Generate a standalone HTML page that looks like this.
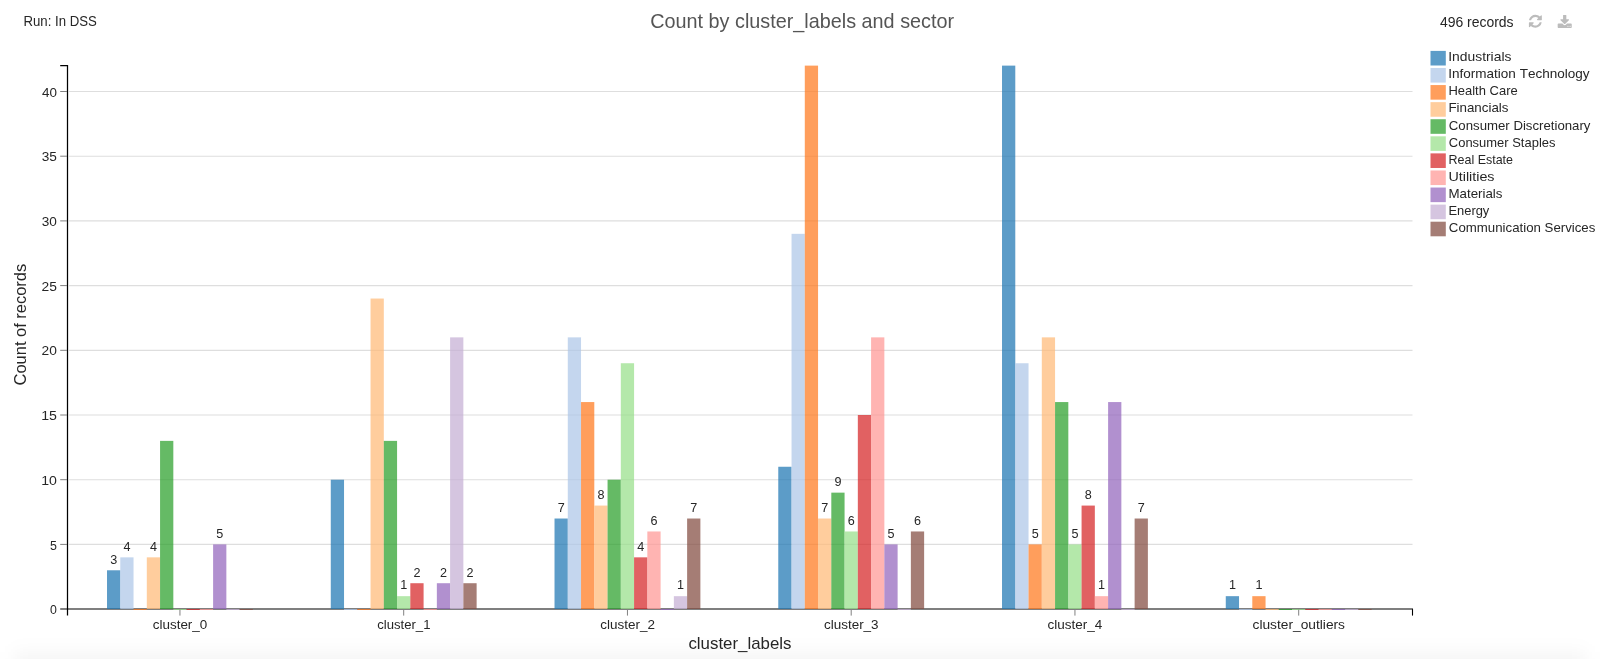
<!DOCTYPE html>
<html lang="en"><head><meta charset="utf-8"><title>Count by cluster_labels and sector</title>
<style>
html,body{margin:0;padding:0;background:#fff;}
body{width:1600px;height:659px;position:relative;overflow:hidden;font-family:"Liberation Sans",sans-serif;}
</style></head><body>
<svg width="1600" height="659" viewBox="0 0 1600 659" font-family="Liberation Sans, sans-serif" style="position:absolute;left:0;top:0;display:block;font-kerning:none;will-change:transform">
<defs><filter id="sh" x="-5%" y="-200%" width="110%" height="500%"><feGaussianBlur stdDeviation="9"/></filter></defs>
<rect x="14" y="652" width="1572" height="60" fill="#000" fill-opacity="0.04" filter="url(#sh)"/>
<g stroke="#dedede" stroke-width="1.15">
<line x1="69" x2="1412.5" y1="544.40" y2="544.40"/>
<line x1="69" x2="1412.5" y1="479.70" y2="479.70"/>
<line x1="69" x2="1412.5" y1="415.00" y2="415.00"/>
<line x1="69" x2="1412.5" y1="350.30" y2="350.30"/>
<line x1="69" x2="1412.5" y1="285.60" y2="285.60"/>
<line x1="69" x2="1412.5" y1="220.90" y2="220.90"/>
<line x1="69" x2="1412.5" y1="156.20" y2="156.20"/>
<line x1="69" x2="1412.5" y1="91.50" y2="91.50"/>
</g>
<line x1="60.2" x2="1413.0" y1="609.0" y2="609.0" stroke="#000" stroke-width="1.17"/>
<g fill-opacity="0.73">
<rect x="107.02" y="570.28" width="13.26" height="38.72" fill="#1f77b4"/>
<rect x="120.28" y="557.34" width="13.26" height="51.66" fill="#aec7e8"/>
<rect x="133.54" y="609.00" width="13.26" height="1" fill="#ff7a20"/>
<rect x="146.80" y="557.34" width="13.26" height="51.66" fill="#ffbb78"/>
<rect x="160.06" y="440.88" width="13.26" height="168.12" fill="#2ca02c"/>
<rect x="173.32" y="609.00" width="13.26" height="1" fill="#98df8a"/>
<rect x="186.58" y="609.00" width="13.26" height="1" fill="#d62728"/>
<rect x="199.84" y="609.00" width="13.26" height="1" fill="#ff9896"/>
<rect x="213.10" y="544.40" width="13.26" height="64.60" fill="#9467bd"/>
<rect x="226.36" y="609.00" width="13.26" height="1" fill="#c5b0d5"/>
<rect x="239.62" y="609.00" width="13.26" height="1" fill="#844d42"/>
<rect x="330.77" y="479.70" width="13.26" height="129.30" fill="#1f77b4"/>
<rect x="344.03" y="609.00" width="13.26" height="1" fill="#aec7e8"/>
<rect x="357.29" y="609.00" width="13.26" height="1" fill="#ff7a20"/>
<rect x="370.55" y="298.54" width="13.26" height="310.46" fill="#ffbb78"/>
<rect x="383.81" y="440.88" width="13.26" height="168.12" fill="#2ca02c"/>
<rect x="397.07" y="596.16" width="13.26" height="12.84" fill="#98df8a"/>
<rect x="410.33" y="583.22" width="13.26" height="25.78" fill="#d62728"/>
<rect x="423.59" y="609.00" width="13.26" height="1" fill="#ff9896"/>
<rect x="436.85" y="583.22" width="13.26" height="25.78" fill="#9467bd"/>
<rect x="450.11" y="337.36" width="13.26" height="271.64" fill="#c5b0d5"/>
<rect x="463.37" y="583.22" width="13.26" height="25.78" fill="#844d42"/>
<rect x="554.52" y="518.52" width="13.26" height="90.48" fill="#1f77b4"/>
<rect x="567.78" y="337.36" width="13.26" height="271.64" fill="#aec7e8"/>
<rect x="581.04" y="402.06" width="13.26" height="206.94" fill="#ff7a20"/>
<rect x="594.30" y="505.58" width="13.26" height="103.42" fill="#ffbb78"/>
<rect x="607.56" y="479.70" width="13.26" height="129.30" fill="#2ca02c"/>
<rect x="620.82" y="363.24" width="13.26" height="245.76" fill="#98df8a"/>
<rect x="634.08" y="557.34" width="13.26" height="51.66" fill="#d62728"/>
<rect x="647.34" y="531.46" width="13.26" height="77.54" fill="#ff9896"/>
<rect x="660.60" y="609.00" width="13.26" height="1" fill="#9467bd"/>
<rect x="673.86" y="596.16" width="13.26" height="12.84" fill="#c5b0d5"/>
<rect x="687.12" y="518.52" width="13.26" height="90.48" fill="#844d42"/>
<rect x="778.27" y="466.76" width="13.26" height="142.24" fill="#1f77b4"/>
<rect x="791.53" y="233.84" width="13.26" height="375.16" fill="#aec7e8"/>
<rect x="804.79" y="65.62" width="13.26" height="543.38" fill="#ff7a20"/>
<rect x="818.05" y="518.52" width="13.26" height="90.48" fill="#ffbb78"/>
<rect x="831.31" y="492.64" width="13.26" height="116.36" fill="#2ca02c"/>
<rect x="844.57" y="531.46" width="13.26" height="77.54" fill="#98df8a"/>
<rect x="857.83" y="415.00" width="13.26" height="194.00" fill="#d62728"/>
<rect x="871.09" y="337.36" width="13.26" height="271.64" fill="#ff9896"/>
<rect x="884.35" y="544.40" width="13.26" height="64.60" fill="#9467bd"/>
<rect x="897.61" y="609.00" width="13.26" height="1" fill="#c5b0d5"/>
<rect x="910.87" y="531.46" width="13.26" height="77.54" fill="#844d42"/>
<rect x="1002.02" y="65.62" width="13.26" height="543.38" fill="#1f77b4"/>
<rect x="1015.28" y="363.24" width="13.26" height="245.76" fill="#aec7e8"/>
<rect x="1028.54" y="544.40" width="13.26" height="64.60" fill="#ff7a20"/>
<rect x="1041.80" y="337.36" width="13.26" height="271.64" fill="#ffbb78"/>
<rect x="1055.06" y="402.06" width="13.26" height="206.94" fill="#2ca02c"/>
<rect x="1068.32" y="544.40" width="13.26" height="64.60" fill="#98df8a"/>
<rect x="1081.58" y="505.58" width="13.26" height="103.42" fill="#d62728"/>
<rect x="1094.84" y="596.16" width="13.26" height="12.84" fill="#ff9896"/>
<rect x="1108.10" y="402.06" width="13.26" height="206.94" fill="#9467bd"/>
<rect x="1121.36" y="609.00" width="13.26" height="1" fill="#c5b0d5"/>
<rect x="1134.62" y="518.52" width="13.26" height="90.48" fill="#844d42"/>
<rect x="1225.77" y="596.16" width="13.26" height="12.84" fill="#1f77b4"/>
<rect x="1239.03" y="609.00" width="13.26" height="1" fill="#aec7e8"/>
<rect x="1252.29" y="596.16" width="13.26" height="12.84" fill="#ff7a20"/>
<rect x="1265.55" y="609.00" width="13.26" height="1" fill="#ffbb78"/>
<rect x="1278.81" y="609.00" width="13.26" height="1" fill="#2ca02c"/>
<rect x="1292.07" y="609.00" width="13.26" height="1" fill="#98df8a"/>
<rect x="1305.33" y="609.00" width="13.26" height="1" fill="#d62728"/>
<rect x="1318.59" y="609.00" width="13.26" height="1" fill="#ff9896"/>
<rect x="1331.85" y="609.00" width="13.26" height="1" fill="#9467bd"/>
<rect x="1345.11" y="609.00" width="13.26" height="1" fill="#c5b0d5"/>
<rect x="1358.37" y="609.00" width="13.26" height="1" fill="#844d42"/>
</g>
<path d="M60.2 65.6H67.5V615.6" fill="none" stroke="#000" stroke-width="1.25"/>
<line x1="1412.5" x2="1412.5" y1="609.1" y2="615.6" stroke="#000" stroke-width="1.1"/>
<g stroke="#808080" stroke-width="1">
<line x1="60.2" x2="67" y1="544.40" y2="544.40"/>
<line x1="60.2" x2="67" y1="479.70" y2="479.70"/>
<line x1="60.2" x2="67" y1="415.00" y2="415.00"/>
<line x1="60.2" x2="67" y1="350.30" y2="350.30"/>
<line x1="60.2" x2="67" y1="285.60" y2="285.60"/>
<line x1="60.2" x2="67" y1="220.90" y2="220.90"/>
<line x1="60.2" x2="67" y1="156.20" y2="156.20"/>
<line x1="60.2" x2="67" y1="91.50" y2="91.50"/>
</g>
<text x="50.02" y="614.20" font-size="13.7" fill="#262626" textLength="6.86" lengthAdjust="spacingAndGlyphs">0</text>
<text x="50.00" y="549.50" font-size="13.7" fill="#262626" textLength="6.92" lengthAdjust="spacingAndGlyphs">5</text>
<text x="41.22" y="484.80" font-size="13.7" fill="#262626" textLength="15.73" lengthAdjust="spacingAndGlyphs">10</text>
<text x="41.22" y="420.10" font-size="13.7" fill="#262626" textLength="15.78" lengthAdjust="spacingAndGlyphs">15</text>
<text x="41.61" y="355.40" font-size="13.7" fill="#262626" textLength="15.33" lengthAdjust="spacingAndGlyphs">20</text>
<text x="41.60" y="290.70" font-size="13.7" fill="#262626" textLength="15.38" lengthAdjust="spacingAndGlyphs">25</text>
<text x="41.78" y="226.00" font-size="13.7" fill="#262626" textLength="15.15" lengthAdjust="spacingAndGlyphs">30</text>
<text x="41.78" y="161.30" font-size="13.7" fill="#262626" textLength="15.19" lengthAdjust="spacingAndGlyphs">35</text>
<text x="41.99" y="96.60" font-size="13.7" fill="#262626" textLength="14.93" lengthAdjust="spacingAndGlyphs">40</text>
<line x1="179.95" x2="179.95" y1="609.6" y2="615.6" stroke="#808080" stroke-width="1"/>
<text x="152.78" y="629.40" font-size="13.6" fill="#262626" textLength="54.50" lengthAdjust="spacingAndGlyphs">cluster_0</text>
<line x1="403.70" x2="403.70" y1="609.6" y2="615.6" stroke="#808080" stroke-width="1"/>
<text x="377.24" y="629.40" font-size="13.6" fill="#262626" textLength="53.20" lengthAdjust="spacingAndGlyphs">cluster_1</text>
<line x1="627.45" x2="627.45" y1="609.6" y2="615.6" stroke="#808080" stroke-width="1"/>
<text x="600.28" y="629.40" font-size="13.6" fill="#262626" textLength="54.65" lengthAdjust="spacingAndGlyphs">cluster_2</text>
<line x1="851.20" x2="851.20" y1="609.6" y2="615.6" stroke="#808080" stroke-width="1"/>
<text x="824.03" y="629.40" font-size="13.6" fill="#262626" textLength="54.56" lengthAdjust="spacingAndGlyphs">cluster_3</text>
<line x1="1074.95" x2="1074.95" y1="609.6" y2="615.6" stroke="#808080" stroke-width="1"/>
<text x="1047.58" y="629.40" font-size="13.6" fill="#262626" textLength="54.77" lengthAdjust="spacingAndGlyphs">cluster_4</text>
<line x1="1298.70" x2="1298.70" y1="609.6" y2="615.6" stroke="#808080" stroke-width="1"/>
<text x="1252.52" y="629.40" font-size="13.6" fill="#262626" textLength="92.48" lengthAdjust="spacingAndGlyphs">cluster_outliers</text>
<text x="113.65" y="563.58" font-size="12.6" fill="#262626" text-anchor="middle">3</text>
<text x="126.91" y="550.64" font-size="12.6" fill="#262626" text-anchor="middle">4</text>
<text x="153.43" y="550.64" font-size="12.6" fill="#262626" text-anchor="middle">4</text>
<text x="219.73" y="537.70" font-size="12.6" fill="#262626" text-anchor="middle">5</text>
<text x="403.70" y="589.46" font-size="12.6" fill="#262626" text-anchor="middle">1</text>
<text x="416.96" y="576.52" font-size="12.6" fill="#262626" text-anchor="middle">2</text>
<text x="443.48" y="576.52" font-size="12.6" fill="#262626" text-anchor="middle">2</text>
<text x="470.00" y="576.52" font-size="12.6" fill="#262626" text-anchor="middle">2</text>
<text x="561.15" y="511.82" font-size="12.6" fill="#262626" text-anchor="middle">7</text>
<text x="600.93" y="498.88" font-size="12.6" fill="#262626" text-anchor="middle">8</text>
<text x="640.71" y="550.64" font-size="12.6" fill="#262626" text-anchor="middle">4</text>
<text x="653.97" y="524.76" font-size="12.6" fill="#262626" text-anchor="middle">6</text>
<text x="680.49" y="589.46" font-size="12.6" fill="#262626" text-anchor="middle">1</text>
<text x="693.75" y="511.82" font-size="12.6" fill="#262626" text-anchor="middle">7</text>
<text x="824.68" y="511.82" font-size="12.6" fill="#262626" text-anchor="middle">7</text>
<text x="837.94" y="485.94" font-size="12.6" fill="#262626" text-anchor="middle">9</text>
<text x="851.20" y="524.76" font-size="12.6" fill="#262626" text-anchor="middle">6</text>
<text x="890.98" y="537.70" font-size="12.6" fill="#262626" text-anchor="middle">5</text>
<text x="917.50" y="524.76" font-size="12.6" fill="#262626" text-anchor="middle">6</text>
<text x="1035.17" y="537.70" font-size="12.6" fill="#262626" text-anchor="middle">5</text>
<text x="1074.95" y="537.70" font-size="12.6" fill="#262626" text-anchor="middle">5</text>
<text x="1088.21" y="498.88" font-size="12.6" fill="#262626" text-anchor="middle">8</text>
<text x="1101.47" y="589.46" font-size="12.6" fill="#262626" text-anchor="middle">1</text>
<text x="1141.25" y="511.82" font-size="12.6" fill="#262626" text-anchor="middle">7</text>
<text x="1232.40" y="589.46" font-size="12.6" fill="#262626" text-anchor="middle">1</text>
<text x="1258.92" y="589.46" font-size="12.6" fill="#262626" text-anchor="middle">1</text>
<text x="688.43" y="648.60" font-size="17.0" fill="#262626" textLength="103.08" lengthAdjust="spacingAndGlyphs">cluster_labels</text>
<text transform="translate(25.6,384.6) rotate(-90)" x="-0.84" y="0" font-size="17" fill="#262626" textLength="121.63" lengthAdjust="spacingAndGlyphs">Count of records</text>
<text x="650.24" y="28.10" font-size="20.3" fill="#555" textLength="303.83" lengthAdjust="spacingAndGlyphs">Count by cluster_labels and sector</text>
<text x="23.42" y="25.60" font-size="14.3" fill="#262626" textLength="73.44" lengthAdjust="spacingAndGlyphs">Run: In DSS</text>
<text x="1439.88" y="26.90" font-size="14.3" fill="#262626" textLength="73.72" lengthAdjust="spacingAndGlyphs">496 records</text>
<g transform="translate(1527.821,13.721) scale(0.008431)" fill="#bcbcbc"><path d="M1639 1056q0 5-1 7-64 268-268 434.500t-478 166.500q-146 0-282.500-55t-243.500-157l-129 129q-19 19-45 19t-45-19-19-45v-448q0-26 19-45t45-19h448q26 0 45 19t19 45-19 45l-137 137q71 66 161 102t187 36q134 0 250-65t186-179q11-17 53-117 8-23 30-23h192q13 0 22.500 9.500t9.500 22.500zm25-800v448q0 26-19 45t-45 19h-448q-26 0-45-19t-19-45 19-45l138-138q-148-137-349-137-134 0-250 65t-186 179q-11 17-53 117-8 23-30 23h-199q-13 0-22.500-9.500t-9.500-22.500v-7q65-268 270-434.500t480-166.500q146 0 284 55.500t245 156.500l130-129q19-19 45-19t45 19 19 45z"/></g>
<g transform="translate(1557.120,14.903) scale(0.008460)" fill="#bcbcbc"><path d="M1344 1344q0-26-19-45t-45-19-45 19-19 45 19 45 45 19 45-19 19-45zm256 0q0-26-19-45t-45-19-45 19-19 45 19 45 45 19 45-19 19-45zm128-224v320q0 40-28 68t-68 28h-1472q-40 0-68-28t-28-68v-320q0-40 28-68t68-28h465l135 136q58 56 136 56t136-56l136-136h464q40 0 68 28t28 68zm-325-569q17 41-14 70l-448 448q-18 19-45 19t-45-19l-448-448q-31-29-14-70 17-39 59-39h256v-448q0-26 19-45t45-19h256q26 0 45 19t19 45v448h256q42 0 59 39z"/></g>
<rect x="1430.5" y="50.90" width="15.3" height="14.6" fill="#1f77b4" fill-opacity="0.73"/>
<text x="1448.22" y="61.20" font-size="13.2" fill="#262626" textLength="63.18" lengthAdjust="spacingAndGlyphs">Industrials</text>
<rect x="1430.5" y="67.98" width="15.3" height="14.6" fill="#aec7e8" fill-opacity="0.73"/>
<text x="1448.25" y="78.28" font-size="13.2" fill="#262626" textLength="141.27" lengthAdjust="spacingAndGlyphs">Information Technology</text>
<rect x="1430.5" y="85.06" width="15.3" height="14.6" fill="#ff7a20" fill-opacity="0.73"/>
<text x="1448.44" y="95.36" font-size="13.2" fill="#262626" textLength="69.24" lengthAdjust="spacingAndGlyphs">Health Care</text>
<rect x="1430.5" y="102.14" width="15.3" height="14.6" fill="#ffbb78" fill-opacity="0.73"/>
<text x="1448.41" y="112.44" font-size="13.2" fill="#262626" textLength="60.08" lengthAdjust="spacingAndGlyphs">Financials</text>
<rect x="1430.5" y="119.22" width="15.3" height="14.6" fill="#2ca02c" fill-opacity="0.73"/>
<text x="1448.83" y="129.52" font-size="13.2" fill="#262626" textLength="141.60" lengthAdjust="spacingAndGlyphs">Consumer Discretionary</text>
<rect x="1430.5" y="136.30" width="15.3" height="14.6" fill="#98df8a" fill-opacity="0.73"/>
<text x="1448.84" y="146.60" font-size="13.2" fill="#262626" textLength="106.63" lengthAdjust="spacingAndGlyphs">Consumer Staples</text>
<rect x="1430.5" y="153.38" width="15.3" height="14.6" fill="#d62728" fill-opacity="0.73"/>
<text x="1448.48" y="163.68" font-size="13.2" fill="#262626" textLength="64.58" lengthAdjust="spacingAndGlyphs">Real Estate</text>
<rect x="1430.5" y="170.46" width="15.3" height="14.6" fill="#ff9896" fill-opacity="0.73"/>
<text x="1448.40" y="180.76" font-size="13.2" fill="#262626" textLength="46.12" lengthAdjust="spacingAndGlyphs">Utilities</text>
<rect x="1430.5" y="187.54" width="15.3" height="14.6" fill="#9467bd" fill-opacity="0.73"/>
<text x="1448.41" y="197.84" font-size="13.2" fill="#262626" textLength="54.08" lengthAdjust="spacingAndGlyphs">Materials</text>
<rect x="1430.5" y="204.62" width="15.3" height="14.6" fill="#c5b0d5" fill-opacity="0.73"/>
<text x="1448.44" y="214.92" font-size="13.2" fill="#262626" textLength="40.88" lengthAdjust="spacingAndGlyphs">Energy</text>
<rect x="1430.5" y="221.70" width="15.3" height="14.6" fill="#844d42" fill-opacity="0.73"/>
<text x="1448.83" y="232.00" font-size="13.2" fill="#262626" textLength="146.55" lengthAdjust="spacingAndGlyphs">Communication Services</text>
</svg>
</body></html>
